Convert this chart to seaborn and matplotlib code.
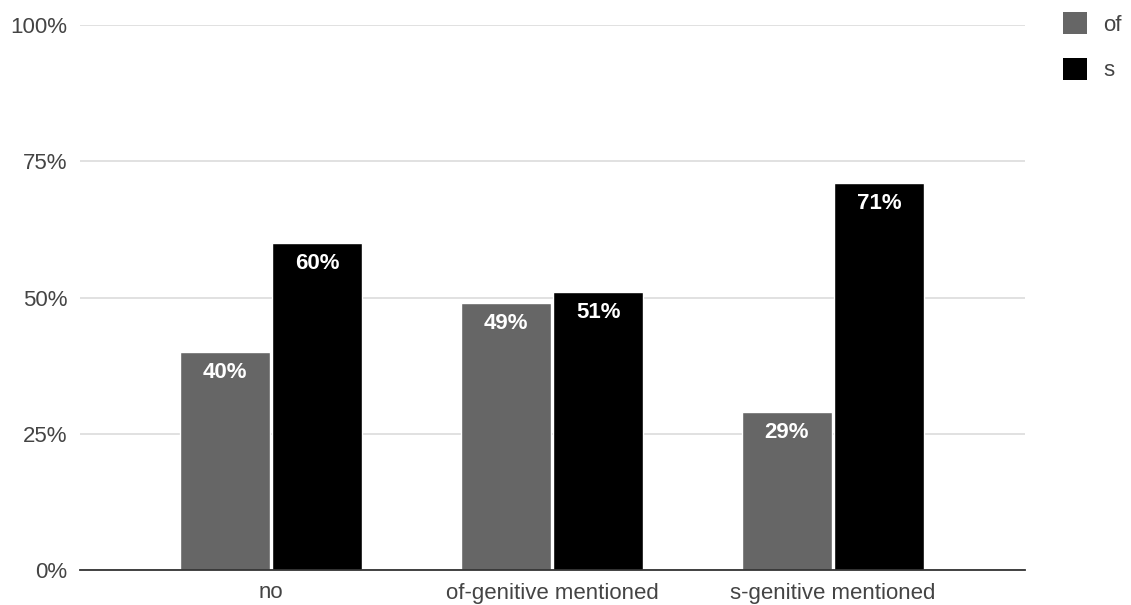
import matplotlib
matplotlib.use("Agg")
import matplotlib.pyplot as plt
import seaborn as sns
import pandas as pd
from matplotlib.patches import Patch
from matplotlib.ticker import FixedLocator, FuncFormatter

categories = ["no", "of-genitive mentioned", "s-genitive mentioned"]
series = ["of", "s"]
of_values = [0.40, 0.49, 0.29]
s_values = [0.60, 0.51, 0.71]
y_ticks = [0, 0.25, 0.5, 0.75, 1.0]
colors = {"of": "#666666", "s": "#000000"}

rows = []
for c, v in zip(categories, of_values):
    rows.append({"category": c, "series": "of", "value": v})
for c, v in zip(categories, s_values):
    rows.append({"category": c, "series": "s", "value": v})
df = pd.DataFrame(rows)

sns.set_theme(style="white")
plt.rcParams["font.family"] = ["Liberation Sans", "DejaVu Sans"]

fig = plt.figure(figsize=(11.31, 6.05), dpi=100)
ax = fig.add_axes([80 / 1131, 1 - 570 / 605, 945 / 1131, 545 / 605])

sns.barplot(data=df, x="category", y="value", hue="series", order=categories,
            hue_order=series, palette=colors, width=0.66, gap=0.03,
            saturation=1, legend=False, ax=ax, errorbar=None)

ax.set_ylim(0, 1)
ax.set_xlim(-0.68, 2.683)
ax.yaxis.set_major_locator(FixedLocator(y_ticks))
ax.yaxis.set_major_formatter(FuncFormatter(lambda v, p: f"{v*100:.0f}%"))
ax.grid(axis="y", color="#d9d9d9", linewidth=1.1)
ax.grid(axis="x", visible=False)
ax.set_axisbelow(True)
for sp in ["left", "right", "top"]:
    ax.spines[sp].set_visible(False)
ax.spines["bottom"].set_color("#333333")
ax.spines["bottom"].set_linewidth(1.3)
ax.spines["bottom"].set_zorder(5)
ax.tick_params(axis="both", length=0, labelsize=16, colors="#444444")
ax.tick_params(axis="y", pad=9)
ax.tick_params(axis="x", pad=9)
ax.set_xlabel("")
ax.set_ylabel("")

for p in ax.patches:
    h = p.get_height()
    if h <= 0:
        continue
    ax.annotate(f"{h*100:.0f}%", (p.get_x() + p.get_width() / 2, h),
                xytext=(0, -7), textcoords="offset points", ha="center",
                va="top", color="white", fontsize=16, fontweight="bold")

handles = [Patch(facecolor=colors[s], edgecolor="none", label=s) for s in series]
fig.legend(handles=handles, loc="upper left",
           bbox_to_anchor=(1063 / 1131, 1 - 12 / 605), frameon=False,
           fontsize=16, handlelength=1.1, handleheight=1.15,
           handletextpad=0.7, labelspacing=1.0, borderpad=0,
           borderaxespad=0, labelcolor="#444444")

fig.savefig("out.png", dpi=100, facecolor="white")
